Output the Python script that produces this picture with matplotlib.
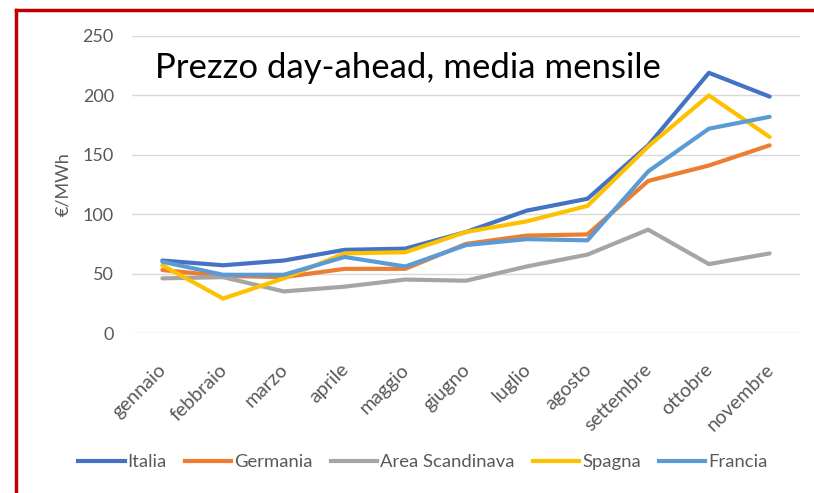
import matplotlib
matplotlib.use("Agg")
import matplotlib.pyplot as plt
import matplotlib.transforms as mtransforms
from matplotlib.lines import Line2D

plt.rcParams['font.family'] = ['Lato', 'DejaVu Sans']

mesi = ["gennaio", "febbraio", "marzo", "aprile", "maggio", "giugno",
        "luglio", "agosto", "settembre", "ottobre", "novembre"]

italia = [61, 57, 61, 70, 71, 85, 103, 113, 158, 219, 199]
germania = [53, 48, 47, 54, 54, 75, 82, 83, 128, 141, 158]
scandinavia = [46, 47, 35, 39, 45, 44, 56, 66, 87, 58, 67]
spagna = [57, 29, 46, 67, 68, 85, 94, 107, 157, 200, 165]
francia = [60, 49, 49, 64, 56, 74, 79, 78, 136, 172, 182]

serie = [("Italia", italia, "#4472C4"),
         ("Germania", germania, "#ED7D31"),
         ("Area Scandinava", scandinavia, "#A5A5A5"),
         ("Spagna", spagna, "#FFC000"),
         ("Francia", francia, "#5B9BD5")]

fig = plt.figure(figsize=(8.14, 4.93), dpi=100)
ax = fig.add_axes([132/814, 1 - 333/493, 668/814, 297/493])

x = list(range(len(mesi)))
for nome, val, col in serie:
    ax.plot(x, val, color=col, lw=3, label=nome, solid_capstyle='round')

ax.set_xlim(-0.5, len(mesi) - 0.5)
ax.set_ylim(0, 250)
ax.set_yticks([0, 50, 100, 150, 200, 250])
ax.set_xticks(x)
ax.set_xticklabels(mesi, rotation=45, ha='right', rotation_mode='anchor')
ax.tick_params(length=0, colors='#595959')
ax.tick_params(axis='y', pad=13, labelsize=13)
ax.tick_params(axis='x', pad=20, labelsize=14)
# sposta un po' le etichette a sinistra come nell'originale
shift = mtransforms.ScaledTranslation(-5/100, 0, fig.dpi_scale_trans)
for lab in ax.get_xticklabels():
    lab.set_transform(lab.get_transform() + shift)
ax.grid(axis='y', color='#D9D9D9', lw=1)
ax.set_axisbelow(True)
for s in ax.spines.values():
    s.set_visible(False)

ax.set_ylabel("€/MWh", fontsize=13, color='#595959', labelpad=8)

fig.text(155/814, 1 - 68/493, "Prezzo day-ahead, media mensile",
         fontsize=25, color='black', va='center', ha='left')

handles = [Line2D([0], [0], color=c, lw=3) for _, _, c in serie]
fig.legend(handles, [n for n, _, _ in serie], loc='center',
           bbox_to_anchor=(423/814, 1 - 462/493), ncol=5, frameon=False,
           fontsize=13.3, labelcolor='#595959', handlelength=2.5,
           handletextpad=0.15, columnspacing=1.0)

# bordo rosso (solo lati visibili nel ritaglio)
fig.add_artist(Line2D([16/814, 1], [1 - 10/493, 1 - 10/493],
                      color='#C00000', lw=2.5, transform=fig.transFigure))
fig.add_artist(Line2D([16/814, 16/814], [0, 1 - 10/493],
                      color='#C00000', lw=2.5, transform=fig.transFigure))

fig.savefig("out.png", dpi=100)
